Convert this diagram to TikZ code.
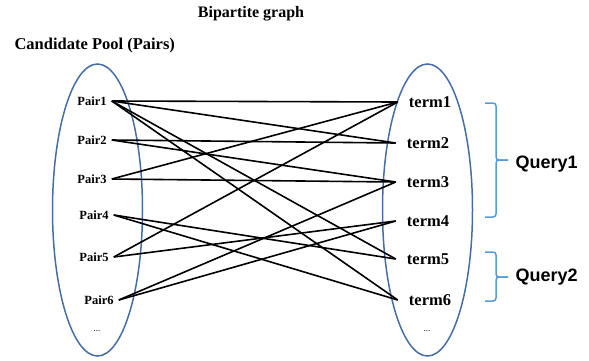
\documentclass[tikz,border=0pt]{standalone}
\usepackage{fontspec}
\setmainfont{Liberation Serif}
\newfontfamily\qfont{Liberation Sans}
\usepackage{xcolor}
\usetikzlibrary{positioning, shapes.geometric}
\definecolor{ringblue}{RGB}{70,110,165}
\definecolor{braceblue}{RGB}{91,155,213}

\begin{document}
\begin{tikzpicture}[x=1pt, y=-1pt,
    ring/.style={ellipse, draw=ringblue, line width=1.5pt, minimum width=90pt, minimum height=292pt, inner sep=0pt},
    pairlbl/.style={font=\fontsize{12.5}{12.5}\selectfont\bfseries, inner xsep=5pt, inner ysep=1pt},
    termlbl/.style={font=\fontsize{16.5}{16.5}\selectfont\bfseries, inner xsep=11pt, inner ysep=1pt},
    dots/.style={font=\fontsize{9}{9}\selectfont},
    edge/.style={draw=black, line width=1.6pt},
    qbrace/.style={draw=braceblue, line width=1.5pt, rounded corners=3pt},
    qlbl/.style={font=\fontsize{18}{18}\selectfont\qfont\bfseries, anchor=west}
]
    \useasboundingbox (0,0) rectangle (589,360);

    % Titles
    \node[font=\fontsize{16}{16}\selectfont\bfseries] (title) at (251,14) {Bipartite graph};
    \node[font=\fontsize{16.5}{16.5}\selectfont\bfseries, anchor=west] (pool) at (11,46) {Candidate Pool (Pairs)};

    % Two vertex sets
    \node[ring] (left) at (97.5,210) {};
    \node[ring] (right) at (427.5,210) {};

    % Pairs (left side)
    \node[pairlbl] (p1) at (92,101) {Pair1};
    \node[pairlbl] (p2) at (92,140) {Pair2};
    \node[pairlbl] (p3) at (92,179) {Pair3};
    \node[pairlbl] (p4) at (94,215) {Pair4};
    \node[pairlbl] (p5) at (94,257) {Pair5};
    \node[pairlbl] (p6) at (99,300) {Pair6};
    \node[dots] (pdots) at (97,331) {...};

    % Terms (right side)
    \node[termlbl] (t1) at (430,102) {term1};
    \node[termlbl] (t2) at (428,143) {term2};
    \node[termlbl] (t3) at (428,182) {term3};
    \node[termlbl] (t4) at (428,221) {term4};
    \node[termlbl] (t5) at (428,259) {term5};
    \node[termlbl] (t6) at (430,300) {term6};
    \node[dots] (tdots) at (427,331) {...};

    % Edges
    \foreach \p/\t in {1/1, 1/2, 1/5, 1/6, 2/2, 2/3, 3/1, 3/3, 4/5, 4/6, 5/1, 5/4, 6/3, 6/4}
        \draw[edge] (p\p.east) -- (t\t.west);

    % Query groups
    \draw[qbrace] (485,103) -- (496,103) -- (496,160) -- (508,160);
    \draw[qbrace] (508,160) -- (496,160) -- (496,217) -- (485,217);
    \node[qlbl] (q1) at (512,164) {Query1};
    \draw[qbrace] (485,252) -- (496,252) -- (496,277) -- (508,277);
    \draw[qbrace] (508,277) -- (496,277) -- (496,301) -- (485,301);
    \node[qlbl] (q2) at (512,277) {Query2};
\end{tikzpicture}
\end{document}
